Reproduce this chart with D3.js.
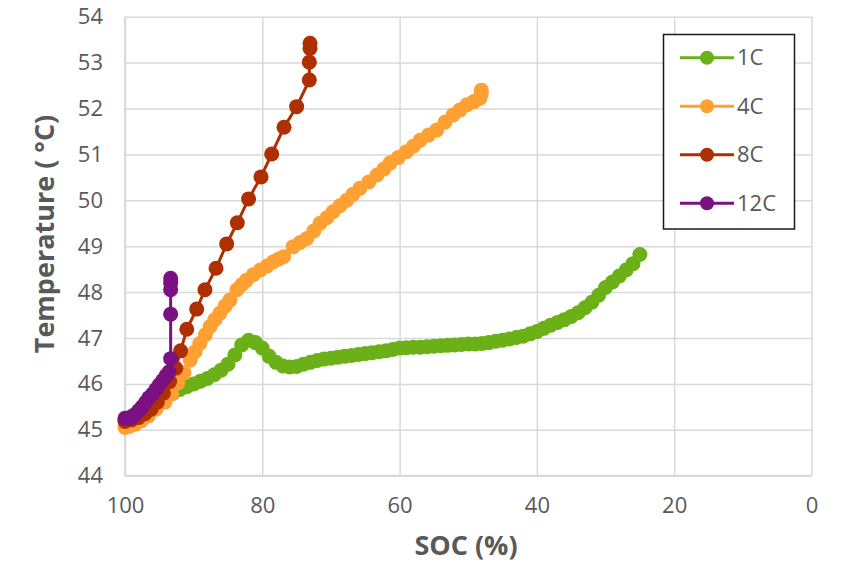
<!DOCTYPE html>
<html>
<head>
<meta charset="utf-8">
<script src="https://cdn.jsdelivr.net/npm/d3@7"></script>
<style>
  html, body { margin: 0; padding: 0; background: #fff; }
  svg { display: block; font-family: "Open Sans", "Noto Sans", sans-serif; }
</style>
</head>
<body>
<svg id="chart" width="843" height="565"></svg>
<script>
// Cell temperature vs state of charge at four discharge rates

const seriesNames = ["1C", "4C", "8C", "12C"];
const seriesColors = ["#6BB016", "#FFA033", "#AE2F00", "#7B1180"];

const xTicks = [100, 80, 60, 40, 20, 0];
const yTicks = [44, 45, 46, 47, 48, 49, 50, 51, 52, 53, 54];

// 1C
const soc1C = [100, 99, 98, 97, 96, 95, 94, 93, 92, 91, 90, 89, 88, 87, 86, 85, 84, 83, 82, 81,
  80, 79, 78, 77, 76, 75, 74, 73, 72, 71, 70, 69, 68, 67, 66, 65, 64, 63, 62, 61,
  60, 59, 58, 57, 56, 55, 54, 53, 52, 51, 50, 49, 48, 47, 46, 45, 44, 43, 42, 41,
  40, 39, 38, 37, 36, 35, 34, 33, 32, 31, 30, 29, 28, 27, 26, 25];
const temp1C = [45.22, 45.30, 45.38, 45.46, 45.55, 45.64, 45.72, 45.80, 45.88, 45.94,
  46.00, 46.06, 46.12, 46.20, 46.30, 46.43, 46.63, 46.85, 46.95, 46.90,
  46.78, 46.60, 46.47, 46.39, 46.37, 46.38, 46.43, 46.47, 46.51, 46.54,
  46.56, 46.58, 46.60, 46.62, 46.64, 46.66, 46.68, 46.70, 46.72, 46.75,
  46.78, 46.79, 46.80, 46.80, 46.81, 46.82, 46.83, 46.84, 46.85, 46.86,
  46.87, 46.87, 46.88, 46.90, 46.93, 46.95, 46.98, 47.01, 47.04, 47.09,
  47.14, 47.21, 47.28, 47.34, 47.40, 47.47, 47.55, 47.66, 47.78, 47.93,
  48.10, 48.22, 48.35, 48.48, 48.62, 48.82];

// 4C
const soc4C = [100, 99.3, 98.5, 97.6, 96.6, 95.5, 94.2, 93.2, 92.3, 91.4, 90.5, 89.8, 89.1, 88.3, 87.6,
  86.9, 86.2, 85.4, 84.7, 83.7, 83.0, 82.3, 81.3, 80.3, 79.3, 78.4, 77.6, 76.9, 75.5, 74.5, 73.5,
  72.5, 71.6, 70.6, 69.7, 68.7, 67.7, 66.8, 65.8, 64.5, 63.3, 62.3, 61.4, 60.2, 59.0, 58.0, 57.0,
  55.8, 54.6, 53.4, 52.2, 51.2, 50.2, 49.2, 48.3, 48.1, 48.1];
const temp4C = [45.05, 45.08, 45.12, 45.20, 45.30, 45.45, 45.60, 45.78, 46.02, 46.25, 46.52, 46.70, 46.88, 47.07, 47.25,
  47.40, 47.54, 47.70, 47.83, 48.05, 48.16, 48.26, 48.38, 48.48, 48.57, 48.66, 48.72, 48.77, 48.99, 49.08, 49.17,
  49.33, 49.50, 49.62, 49.75, 49.88, 50.00, 50.13, 50.26, 50.40, 50.55, 50.68, 50.81, 50.93, 51.06, 51.18, 51.31,
  51.42, 51.53, 51.70, 51.86, 51.97, 52.08, 52.15, 52.22, 52.32, 52.40];

// 8C
const soc8C = [100, 99, 98, 97.1, 96.2, 95.3, 94.4, 93.5, 92.6, 91.9, 91.0, 89.56, 88.35,
  86.74, 85.19, 83.64, 82.0, 80.19, 78.63, 76.84, 75.0, 73.15, 73.15, 73.05, 73.05];
const temp8C = [45.18, 45.22, 45.27, 45.35, 45.45, 45.60, 45.80, 46.05, 46.34, 46.72, 47.19, 47.63, 48.05,
  48.52, 49.05, 49.51, 50.03, 50.51, 51.01, 51.59, 52.04, 52.62, 53.01, 53.31, 53.42];

// 12C
const soc12C = [100, 99.5, 99, 98.5, 98, 97.5, 97, 96.5, 96, 95.5, 95, 94.5, 94, 93.6,
  93.35, 93.35, 93.35, 93.35, 93.35];
const temp12C = [45.25, 45.25, 45.28, 45.34, 45.42, 45.50, 45.60, 45.70, 45.78, 45.88, 45.98, 46.08, 46.18, 46.26,
  46.55, 47.52, 48.05, 48.20, 48.30];

const seriesSoc = [soc1C, soc4C, soc8C, soc12C];
const seriesTemp = [temp1C, temp4C, temp8C, temp12C];

const svg = d3.select("#chart");
const plotLeft = 125, plotRight = 811.5, plotTop = 16.7, plotBottom = 475.7;

const x = d3.scaleLinear().domain([100, 0]).range([plotLeft, plotRight]);
const y = d3.scaleLinear().domain([44, 54]).range([plotBottom, plotTop]);

const gridColor = "#D9D9D9";
const textColor = "#595959";
const markerR = 7.5;

// y axis with horizontal gridlines
const yAxis = svg.append("g")
  .attr("transform", `translate(${plotLeft},0)`)
  .call(d3.axisLeft(y).tickValues(yTicks).tickFormat(d3.format("d"))
    .tickSize(-(plotRight - plotLeft)).tickPadding(22));
yAxis.select(".domain").remove();
yAxis.selectAll(".tick line").attr("stroke", gridColor).attr("stroke-width", 1.5);
yAxis.selectAll(".tick text").attr("fill", textColor).attr("font-size", 22)
  .attr("font-family", "'Open Sans', sans-serif");

// x axis with vertical gridlines
const xAxis = svg.append("g")
  .attr("transform", `translate(0,${plotBottom})`)
  .call(d3.axisBottom(x).tickValues(xTicks).tickFormat(d3.format("d"))
    .tickSize(-(plotBottom - plotTop)).tickPadding(22));
xAxis.select(".domain").remove();
xAxis.selectAll(".tick line").attr("stroke", gridColor).attr("stroke-width", 1.5);
xAxis.selectAll(".tick text").attr("fill", textColor).attr("font-size", 22)
  .attr("font-family", "'Open Sans', sans-serif");

// axis frame lines
svg.append("line").attr("x1", plotLeft).attr("x2", plotRight).attr("y1", plotBottom).attr("y2", plotBottom)
  .attr("stroke", gridColor).attr("stroke-width", 2);
svg.append("line").attr("x1", plotLeft).attr("x2", plotLeft).attr("y1", plotTop).attr("y2", plotBottom)
  .attr("stroke", gridColor).attr("stroke-width", 2);

// axis titles
svg.append("text")
  .attr("x", 466).attr("y", 555)
  .attr("text-anchor", "middle")
  .attr("font-size", 27).attr("font-weight", "bold")
  .attr("fill", textColor)
  .text("SOC (%)");

svg.append("text")
  .attr("transform", "translate(54,234) rotate(-90)")
  .attr("text-anchor", "middle")
  .attr("font-size", 27).attr("font-weight", "bold")
  .attr("fill", textColor)
  .text("Temperature ( °C)");

// series
const line = d3.line().x(d => x(d[0])).y(d => y(d[1]));
const plot = svg.append("g");

seriesNames.forEach((name, i) => {
  const pts = seriesSoc[i].map((s, j) => [s, seriesTemp[i][j]]);
  const g = plot.append("g").attr("class", "series-" + name);
  g.append("path")
    .datum(pts)
    .attr("fill", "none")
    .attr("stroke", seriesColors[i])
    .attr("stroke-width", 3)
    .attr("d", line);
  g.selectAll("circle")
    .data(pts)
    .join("circle")
    .attr("cx", d => x(d[0]))
    .attr("cy", d => y(d[1]))
    .attr("r", markerR)
    .attr("fill", seriesColors[i]);
});

// legend
const legend = svg.append("g");
legend.append("rect")
  .attr("x", 663.5).attr("y", 34.5)
  .attr("width", 131).attr("height", 194.5)
  .attr("fill", "#fff")
  .attr("stroke", "#1a1a1a").attr("stroke-width", 1.5);

const legendY = d3.scalePoint().domain(seriesNames).range([57.7, 203.3]);
seriesNames.forEach((name, i) => {
  const ly = legendY(name);
  legend.append("line")
    .attr("x1", 680).attr("x2", 734).attr("y1", ly).attr("y2", ly)
    .attr("stroke", seriesColors[i]).attr("stroke-width", 3);
  legend.append("circle")
    .attr("cx", 707).attr("cy", ly).attr("r", 7)
    .attr("fill", seriesColors[i]);
  legend.append("text")
    .attr("x", 737).attr("y", ly).attr("dy", "0.35em")
    .attr("font-size", 22).attr("fill", textColor)
    .text(name);
});
</script>
</body>
</html>
